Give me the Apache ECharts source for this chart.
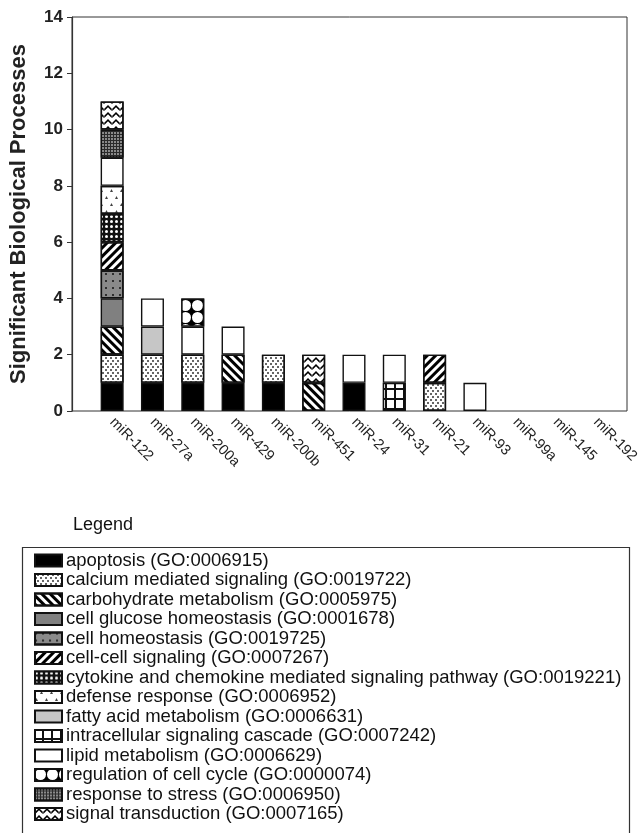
<!DOCTYPE html>
<html>
<head>
<meta charset="utf-8">
<script src="https://cdn.jsdelivr.net/npm/echarts@6/dist/echarts.min.js"></script>
<style>
  html, body { margin: 0; padding: 0; background: #fff; }
  #chart { width: 641px; height: 833px; }
</style>
</head>
<body>
<div id="chart"></div>
<script>
// microRNAs along the x axis
const categories = ['miR-122', 'miR-27a', 'miR-200a', 'miR-429', 'miR-200b', 'miR-451',
  'miR-24', 'miR-31', 'miR-21', 'miR-93', 'miR-99a', 'miR-145', 'miR-192'];

const yTicks = [0, 2, 4, 6, 8, 10, 12, 14];

// counts per GO process, one value per microRNA (stacked bottom -> top in this order)
const apoptosis       = [1, 1, 1, 1, 1, 0, 1, 0, 0, 0, 0, 0, 0];
const calcium         = [1, 1, 1, 0, 1, 0, 0, 0, 1, 0, 0, 0, 0];
const carbohydrate    = [1, 0, 0, 1, 0, 1, 0, 0, 0, 0, 0, 0, 0];
const cellGlucose     = [1, 0, 0, 0, 0, 0, 0, 0, 0, 0, 0, 0, 0];
const cellHomeostasis = [1, 0, 0, 0, 0, 0, 0, 0, 0, 0, 0, 0, 0];
const cellCell        = [1, 0, 0, 0, 0, 0, 0, 0, 1, 0, 0, 0, 0];
const cytokine        = [1, 0, 0, 0, 0, 0, 0, 0, 0, 0, 0, 0, 0];
const defense         = [1, 0, 0, 0, 0, 0, 0, 0, 0, 0, 0, 0, 0];
const fattyAcid       = [0, 1, 0, 0, 0, 0, 0, 0, 0, 0, 0, 0, 0];
const intracellular   = [0, 0, 0, 0, 0, 0, 0, 1, 0, 0, 0, 0, 0];
const lipid           = [1, 1, 1, 1, 0, 0, 1, 1, 0, 1, 0, 0, 0];
const cellCycle       = [0, 0, 1, 0, 0, 0, 0, 0, 0, 0, 0, 0, 0];
const stress          = [1, 0, 0, 0, 0, 0, 0, 0, 0, 0, 0, 0, 0];
const signal          = [1, 0, 0, 0, 0, 1, 0, 0, 0, 0, 0, 0, 0];

const processNames = [
  'apoptosis (GO:0006915)',
  'calcium mediated signaling (GO:0019722)',
  'carbohydrate metabolism (GO:0005975)',
  'cell glucose homeostasis (GO:0001678)',
  'cell homeostasis (GO:0019725)',
  'cell-cell signaling (GO:0007267)',
  'cytokine and chemokine mediated signaling pathway (GO:0019221)',
  'defense response (GO:0006952)',
  'fatty acid metabolism (GO:0006631)',
  'intracellular signaling cascade (GO:0007242)',
  'lipid metabolism (GO:0006629)',
  'regulation of cell cycle (GO:0000074)',
  'response to stress (GO:0006950)',
  'signal transduction (GO:0007165)'
];
const processValues = [apoptosis, calcium, carbohydrate, cellGlucose, cellHomeostasis, cellCell,
  cytokine, defense, fattyAcid, intracellular, lipid, cellCycle, stress, signal];

// fill + hatch pattern for each process
const fills = [
  { color: '#000' },
  { color: '#fff', decal: { symbol: 'circle', symbolSize: 1, color: '#333', dashArrayX: [[1.4, 2.6], [0, 2, 1.4, 0.6]], dashArrayY: [1.4, 0.8] } },
  { color: '#fff', decal: { symbol: 'rect', symbolSize: 1, color: '#000', dashArrayX: [1, 0], dashArrayY: [3, 3], rotation: Math.PI / 4 } },
  { color: '#808080' },
  { color: '#8a8a8a', decal: { symbol: 'circle', symbolSize: 1, color: '#111', dashArrayX: [1.6, 5], dashArrayY: [1.6, 5] } },
  { color: '#fff', decal: { symbol: 'rect', symbolSize: 1, color: '#000', dashArrayX: [1, 0], dashArrayY: [3, 3], rotation: -Math.PI / 4 } },
  { color: '#111', decal: { symbol: 'circle', symbolSize: 1, color: '#fff', dashArrayX: [2.2, 1.3], dashArrayY: [2.2, 1.3] } },
  { color: '#fff', decal: { symbol: 'triangle', symbolSize: 1, color: '#444', dashArrayX: [[2.5, 6.5], [0, 4.5, 2.5, 2]], dashArrayY: [2.5, 4] } },
  { color: '#c6c6c6' },
  { color: '#111', decal: { symbol: 'rect', symbolSize: 1, color: '#fff', dashArrayX: [6.5, 1.5], dashArrayY: [7.5, 1.5] } },
  { color: '#fff' },
  { color: '#000', decal: { symbol: 'circle', symbolSize: 1, color: '#fff', dashArrayX: [10.5, 0.5], dashArrayY: [10.5, 0.5] } },
  { color: '#2a2a2a', decal: { symbol: 'rect', symbolSize: 1, color: '#8a8a8a', dashArrayX: [1.5, 1], dashArrayY: [1.5, 1] } },
  { color: '#fff', decal: { symbol: 'path://M0,5 L5,0 L10,5 L10,8 L5,3 L0,8 Z', symbolSize: 1, color: '#000', dashArrayX: [8, 0], dashArrayY: [5.5, 1] } }
];

const series = processNames.map(function (name, i) {
  return {
    name: name,
    type: 'bar',
    stack: 'go',
    xAxisIndex: 1,
    yAxisIndex: 1,
    barWidth: 23,
    itemStyle: Object.assign({ borderColor: '#111', borderWidth: 1.4 }, fills[i]),
    emphasis: { disabled: true },
    data: processValues[i].map(function (v) { return v === 0 ? '-' : v; })
  };
});

const chart = echarts.init(document.getElementById('chart'), null, { renderer: 'canvas' });
chart.setOption({
  animation: false,
  backgroundColor: '#fff',
  textStyle: { fontFamily: 'Liberation Sans, Arial, sans-serif' },
  title: {
    text: 'Legend',
    left: 68,
    top: 511,
    textStyle: { fontSize: 18, fontWeight: 'normal', color: '#111' }
  },
  graphic: [{
    type: 'rect',
    left: 20,
    top: 545,
    shape: { width: 607, height: 320 },
    style: { fill: 'none', stroke: '#333', lineWidth: 1.2 },
    silent: true,
    z: -1
  }],
  grid: [
    { left: 72, right: 14, top: 17, bottom: 422, outerBoundsMode: 'none', show: true, borderColor: '#333', borderWidth: 1, backgroundColor: 'transparent' },
    { left: 92, right: 25, top: 17, bottom: 422, outerBoundsMode: 'none' }
  ],
  xAxis: [
    { gridIndex: 0, type: 'value', min: 0, max: 1, show: false },
    {
      gridIndex: 1,
      type: 'category',
      data: categories,
      axisLine: { show: false },
      axisTick: { show: false },
      axisLabel: { rotate: -45, margin: 9, fontSize: 14.5, color: '#222', interval: 0 }
    }
  ],
  yAxis: [
    {
      gridIndex: 0,
      type: 'value',
      min: yTicks[0],
      max: yTicks[yTicks.length - 1],
      interval: 2,
      name: 'Significant Biological Processes',
      nameLocation: 'middle',
      nameGap: 42,
      nameTextStyle: { fontSize: 22, fontWeight: 'bold', color: '#222' },
      axisLine: { show: true, lineStyle: { color: '#333', width: 1.2 } },
      axisTick: { show: true, length: 5, lineStyle: { color: '#333' } },
      axisLabel: { fontSize: 17, fontWeight: 'bold', color: '#222', margin: 9 },
      splitLine: { show: false }
    },
    { gridIndex: 1, type: 'value', min: 0, max: 14, show: false }
  ],
  legend: {
    orient: 'vertical',
    left: 20,
    top: 544,
    padding: [7, 7, 0, 14],
    itemWidth: 27,
    itemHeight: 12,
    itemGap: 0.5,
    selectedMode: false,
    icon: 'rect',
    textStyle: { fontSize: 18.5, color: '#111', padding: [0, 0, 0, -1] },
    data: processNames
  },
  series: series
});
</script>
</body>
</html>
